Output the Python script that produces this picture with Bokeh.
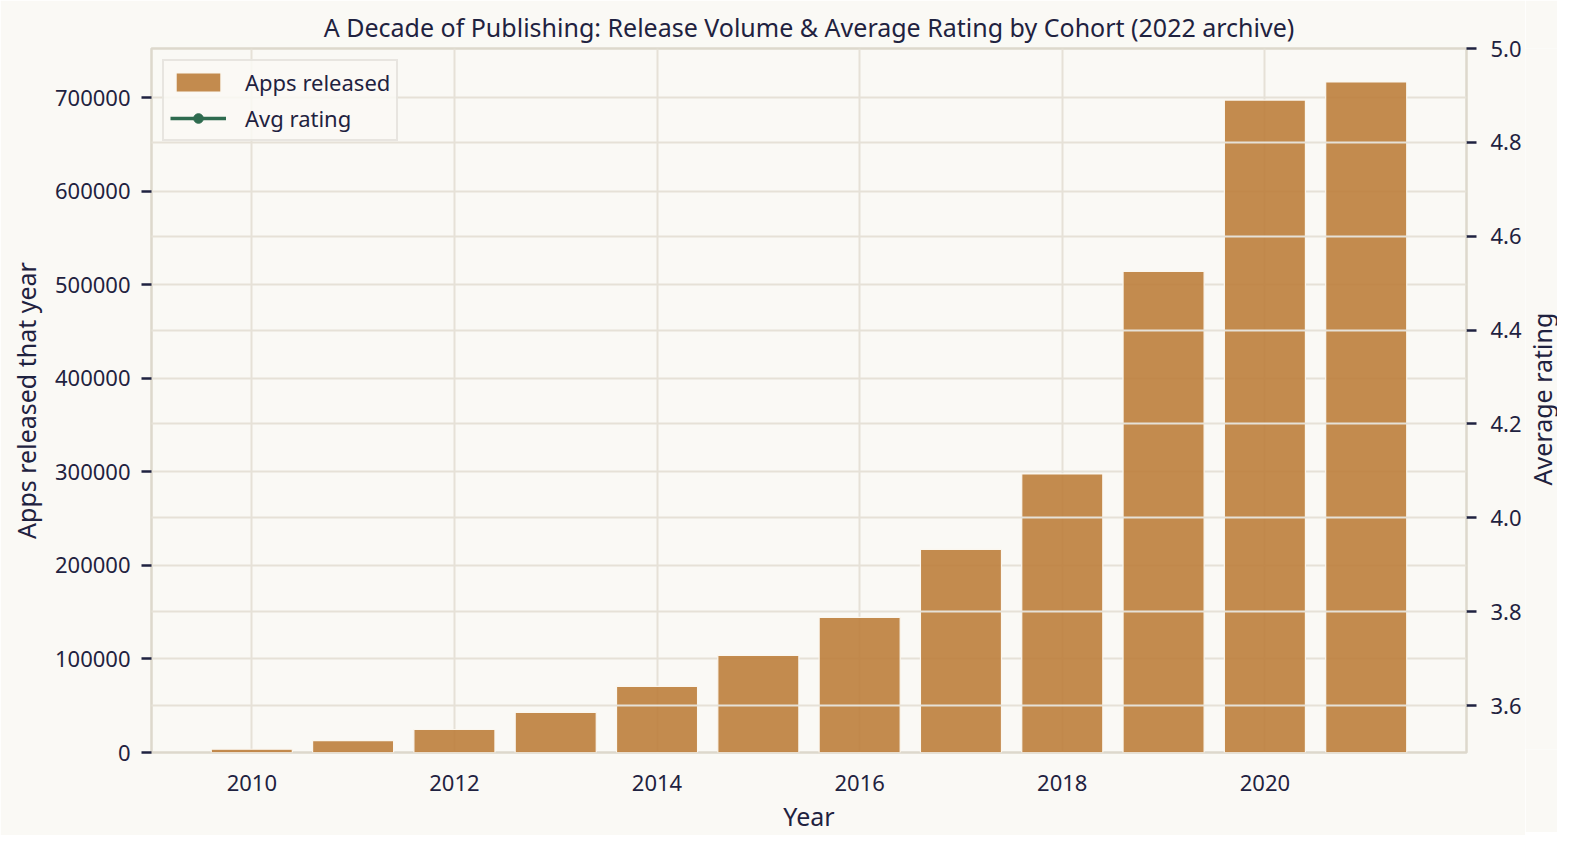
import math
from bokeh.plotting import figure
from bokeh.layouts import row
from bokeh.models import (Range1d, LinearAxis, FixedTicker, NumeralTickFormatter,
                          Grid, Legend, LegendItem, ColumnDataSource, Label)
from bokeh.embed import file_html
from bokeh.resources import INLINE

# ---- data ----
years = [2010, 2011, 2012, 2013, 2014, 2015, 2016, 2017, 2018, 2019, 2020, 2021]
apps_released = [3500, 12800, 24600, 42800, 70600, 103800, 144400, 217100, 297800, 514200, 697400, 716700]
# average rating line: not visible inside the 3.5-5.0 window in the reference
avg_rating = [float("nan")] * len(years)
x_ticks = [2010, 2012, 2014, 2016, 2018, 2020]
left_ticks = [0, 100000, 200000, 300000, 400000, 500000, 600000, 700000]
right_ticks = [3.6, 3.8, 4.0, 4.2, 4.4, 4.6, 4.8, 5.0]
rating_lo, rating_hi = 3.5, 5.0

BG = "#FAF9F5"
TXT = "#1F2240"
GRID = "#E6E1D7"
SPINE = "#DDD8CC"
BAR = "#BC7E3C"
GREEN = "#2E6B4F"
FONT = "Noto Sans"

bar_w = 0.8
xmin = min(years) - bar_w / 2
xmax = max(years) + bar_w / 2
pad = (xmax - xmin) * 0.05

p = figure(width=1525, height=832, output_backend="svg", toolbar_location=None,
           x_range=Range1d(xmin - pad, xmax + pad),
           y_range=Range1d(0, max(apps_released) * 1.05),
           frame_width=1315, frame_height=704,
           min_border_left=151, min_border_right=59, min_border_top=48, min_border_bottom=80,
           background_fill_color=BG, border_fill_color=BG)
p.extra_y_ranges = {"rating": Range1d(rating_lo, rating_hi)}

p.title.text = "A Decade of Publishing: Release Volume & Average Rating by Cohort (2022 archive)"
p.title.align = "center"
p.title.text_font = FONT
p.title.text_font_size = "25px"
p.title.text_font_style = "normal"
p.title.text_color = TXT
p.title.offset = 0
p.title.standoff = 9

p.outline_line_color = SPINE
p.outline_line_width = 2.5

src = ColumnDataSource(dict(x=years, top=apps_released, r=avg_rating))
bars = p.vbar(x="x", top="top", width=bar_w, source=src, fill_color=BAR, fill_alpha=0.9,
              line_color="#FBF7EF", line_width=1.2)
ln = p.line(x="x", y="r", source=src, y_range_name="rating", line_color=GREEN, line_width=3.5)
mk = p.scatter(x="x", y="r", source=src, y_range_name="rating", size=14, fill_color=GREEN,
               line_color=GREEN)

# axes
xa = p.xaxis[0]
xa.ticker = FixedTicker(ticks=x_ticks)
xa.axis_label = "Year"
ya = p.yaxis[0]
ya.ticker = FixedTicker(ticks=left_ticks)
ya.formatter = NumeralTickFormatter(format="0")
ya.axis_label = "Apps released that year"

ra = LinearAxis(y_range_name="rating", ticker=FixedTicker(ticks=right_ticks),
                formatter=NumeralTickFormatter(format="0.0"))
p.add_layout(ra, "right")

for ax in (xa, ya, ra):
    ax.axis_line_color = None
    ax.minor_tick_line_color = None
    ax.major_tick_line_color = TXT
    ax.major_tick_line_width = 2.5
    ax.major_tick_out = 10
    ax.major_tick_in = 0
    ax.major_label_text_font = FONT
    ax.major_label_text_font_size = "22px"
    ax.major_label_text_color = TXT
    ax.axis_label_text_font = FONT
    ax.axis_label_text_font_size = "25px"
    ax.axis_label_text_font_style = "normal"
    ax.axis_label_text_color = TXT
xa.major_tick_line_color = None
xa.major_label_standoff = 12
ya.major_label_standoff = 11
ra.major_label_standoff = 14
xa.axis_label_standoff = 5
ya.axis_label_standoff = 9

# grids
p.xgrid.grid_line_color = GRID
p.xgrid.grid_line_width = 2
p.xgrid.ticker = FixedTicker(ticks=x_ticks)
p.ygrid.grid_line_color = GRID
p.ygrid.grid_line_width = 2
p.ygrid.ticker = FixedTicker(ticks=left_ticks)
rgrid = Grid(dimension=1, y_range_name="rating", ticker=FixedTicker(ticks=right_ticks),
             grid_line_color=GRID, grid_line_width=2, level="guide")
p.add_layout(rgrid)

legend = Legend(items=[LegendItem(label="Apps released", renderers=[bars]),
                       LegendItem(label="Avg rating", renderers=[ln, mk])],
                location="top_left", orientation="vertical")
legend.label_text_font = FONT
legend.label_text_font_size = "22px"
legend.label_text_color = TXT
legend.glyph_width = 56
legend.glyph_height = 24
legend.label_standoff = 19
legend.spacing = 6
legend.padding = 6
legend.margin = 11
legend.border_line_color = "#D5D2CB"
legend.border_line_width = 2
legend.background_fill_color = BG
legend.background_fill_alpha = 0.85
p.add_layout(legend)

# narrow strip at the right carrying the right-axis title (reads bottom-to-top)
side = figure(width=32, height=832, output_backend="svg", toolbar_location=None,
              x_range=Range1d(0, 1), y_range=Range1d(rating_lo, rating_hi),
              x_axis_type=None, y_axis_type=None,
              min_border_left=0, min_border_right=0, min_border_top=48, min_border_bottom=80,
              background_fill_color=BG, border_fill_color=BG, outline_line_color=None)
side.xgrid.visible = False
side.ygrid.visible = False
side.add_layout(Label(x=0.5, y=(rating_lo + rating_hi) / 2, text="Average rating",
                      angle=math.pi / 2, text_align="center", text_baseline="middle",
                      text_font=FONT, text_font_size="25px", text_color=TXT))

layout = row(p, side, spacing=0)
open("out.html", "w").write(file_html(layout, INLINE))
